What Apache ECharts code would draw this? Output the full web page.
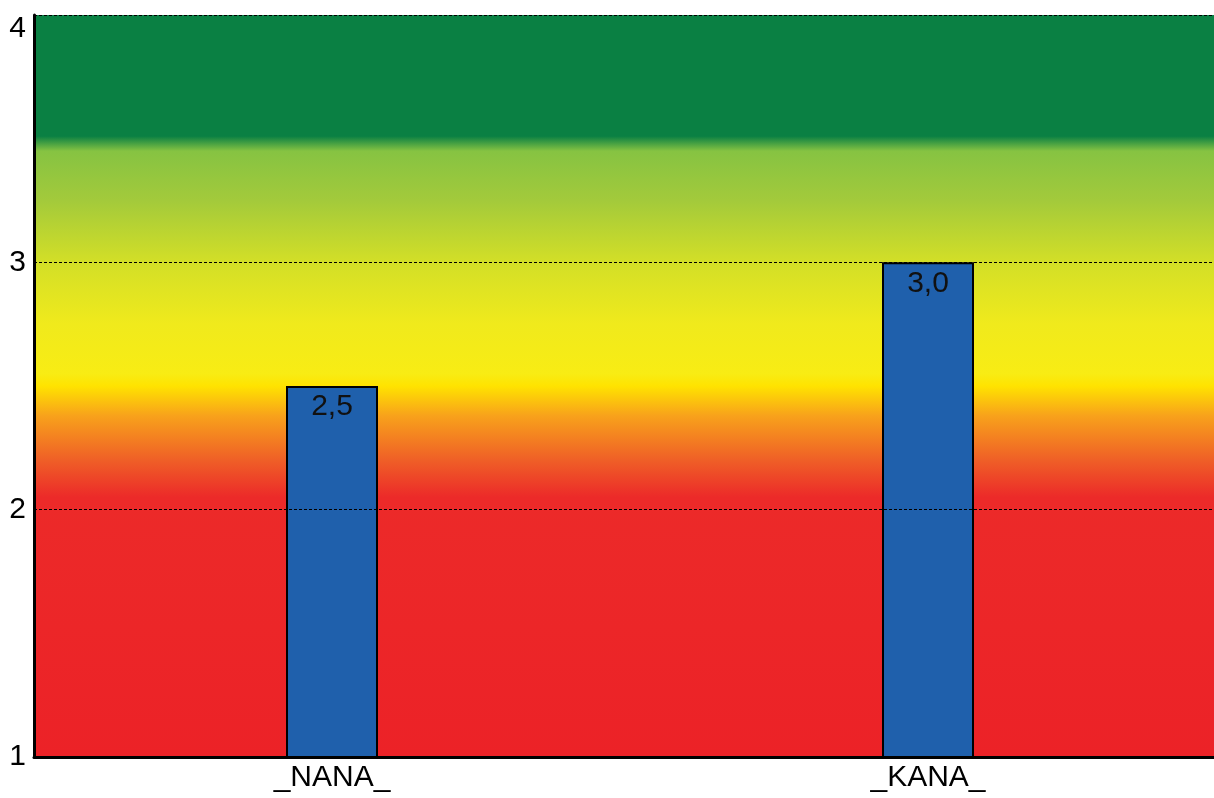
<!DOCTYPE html>
<html>
<head>
<meta charset="utf-8">
<script src="https://cdn.jsdelivr.net/npm/echarts@6/dist/echarts.min.js"></script>
<style>html,body{margin:0;padding:0;background:#fff;overflow:hidden;}#c{width:1226px;height:798px;}</style>
</head>
<body>
<div id="c"></div>
<script>
const categories = ['_NANA_', '_KANA_'];
const values = [2.5, 3.0];
const yTicks = [1, 2, 3, 4];
// background band colours: [value, colour]
const bandStops = [
  [4.0, '#0A8043'],
  [3.51, '#0A8043'],
  [3.45, '#86C342'],
  [3.25, '#A3CA3B'],
  [3.0, '#D3DF27'],
  [2.75, '#F0EA1C'],
  [2.55, '#F8EC14'],
  [2.5, '#FFE300'],
  [2.38, '#F8A21B'],
  [2.2, '#EF5F27'],
  [2.05, '#EC2A29'],
  [1.0, '#EC2227']
];

const yMin = 1, yMax = 4;
const FONT = 'Liberation Sans, Arial, sans-serif';
const gradient = new echarts.graphic.LinearGradient(0, 0, 0, 1,
  bandStops.map(s => ({ offset: (yMax - s[0]) / (yMax - yMin), color: s[1] })));

const chart = echarts.init(document.getElementById('c'), null, { renderer: 'canvas' });
chart.setOption({
  animation: false,
  grid: {
    left: 34, top: 15, right: 0, bottom: 41,
    show: true, backgroundColor: gradient, borderWidth: 0
  },
  xAxis: {
    type: 'category',
    data: categories,
    axisLine: { show: true, lineStyle: { color: '#000', width: 3 } },
    axisTick: { show: false },
    axisLabel: { fontSize: 30, color: '#000', fontFamily: FONT, margin: 6 },
    z: 5
  },
  yAxis: {
    type: 'value',
    min: yMin, max: yMax, interval: 1,
    axisLine: { show: true, lineStyle: { color: '#000', width: 3 } },
    axisTick: { show: false },
    axisLabel: {
      fontSize: 30, color: '#000', fontFamily: FONT, margin: 8,
      formatter: v => v === yMax ? '{top|' + v + '}' : (yTicks.includes(v) ? String(v) : ''),
      rich: { top: { fontSize: 30, color: '#000', fontFamily: FONT, padding: [28, 0, 0, 0] } }
    },
    splitLine: { show: true, lineStyle: { color: '#000', width: 1, type: [3, 2] } },
    z: 5
  },
  series: [{
    type: 'bar',
    data: values,
    barWidth: 92,
    itemStyle: { color: '#1F60AC', borderColor: '#000', borderWidth: 2 },
    label: {
      show: true, position: 'insideTop', distance: 6,
      fontSize: 30, color: '#111', fontFamily: FONT,
      formatter: p => p.value.toFixed(1).replace('.', ',')
    },
    z: 3
  }]
});
</script>
</body>
</html>
